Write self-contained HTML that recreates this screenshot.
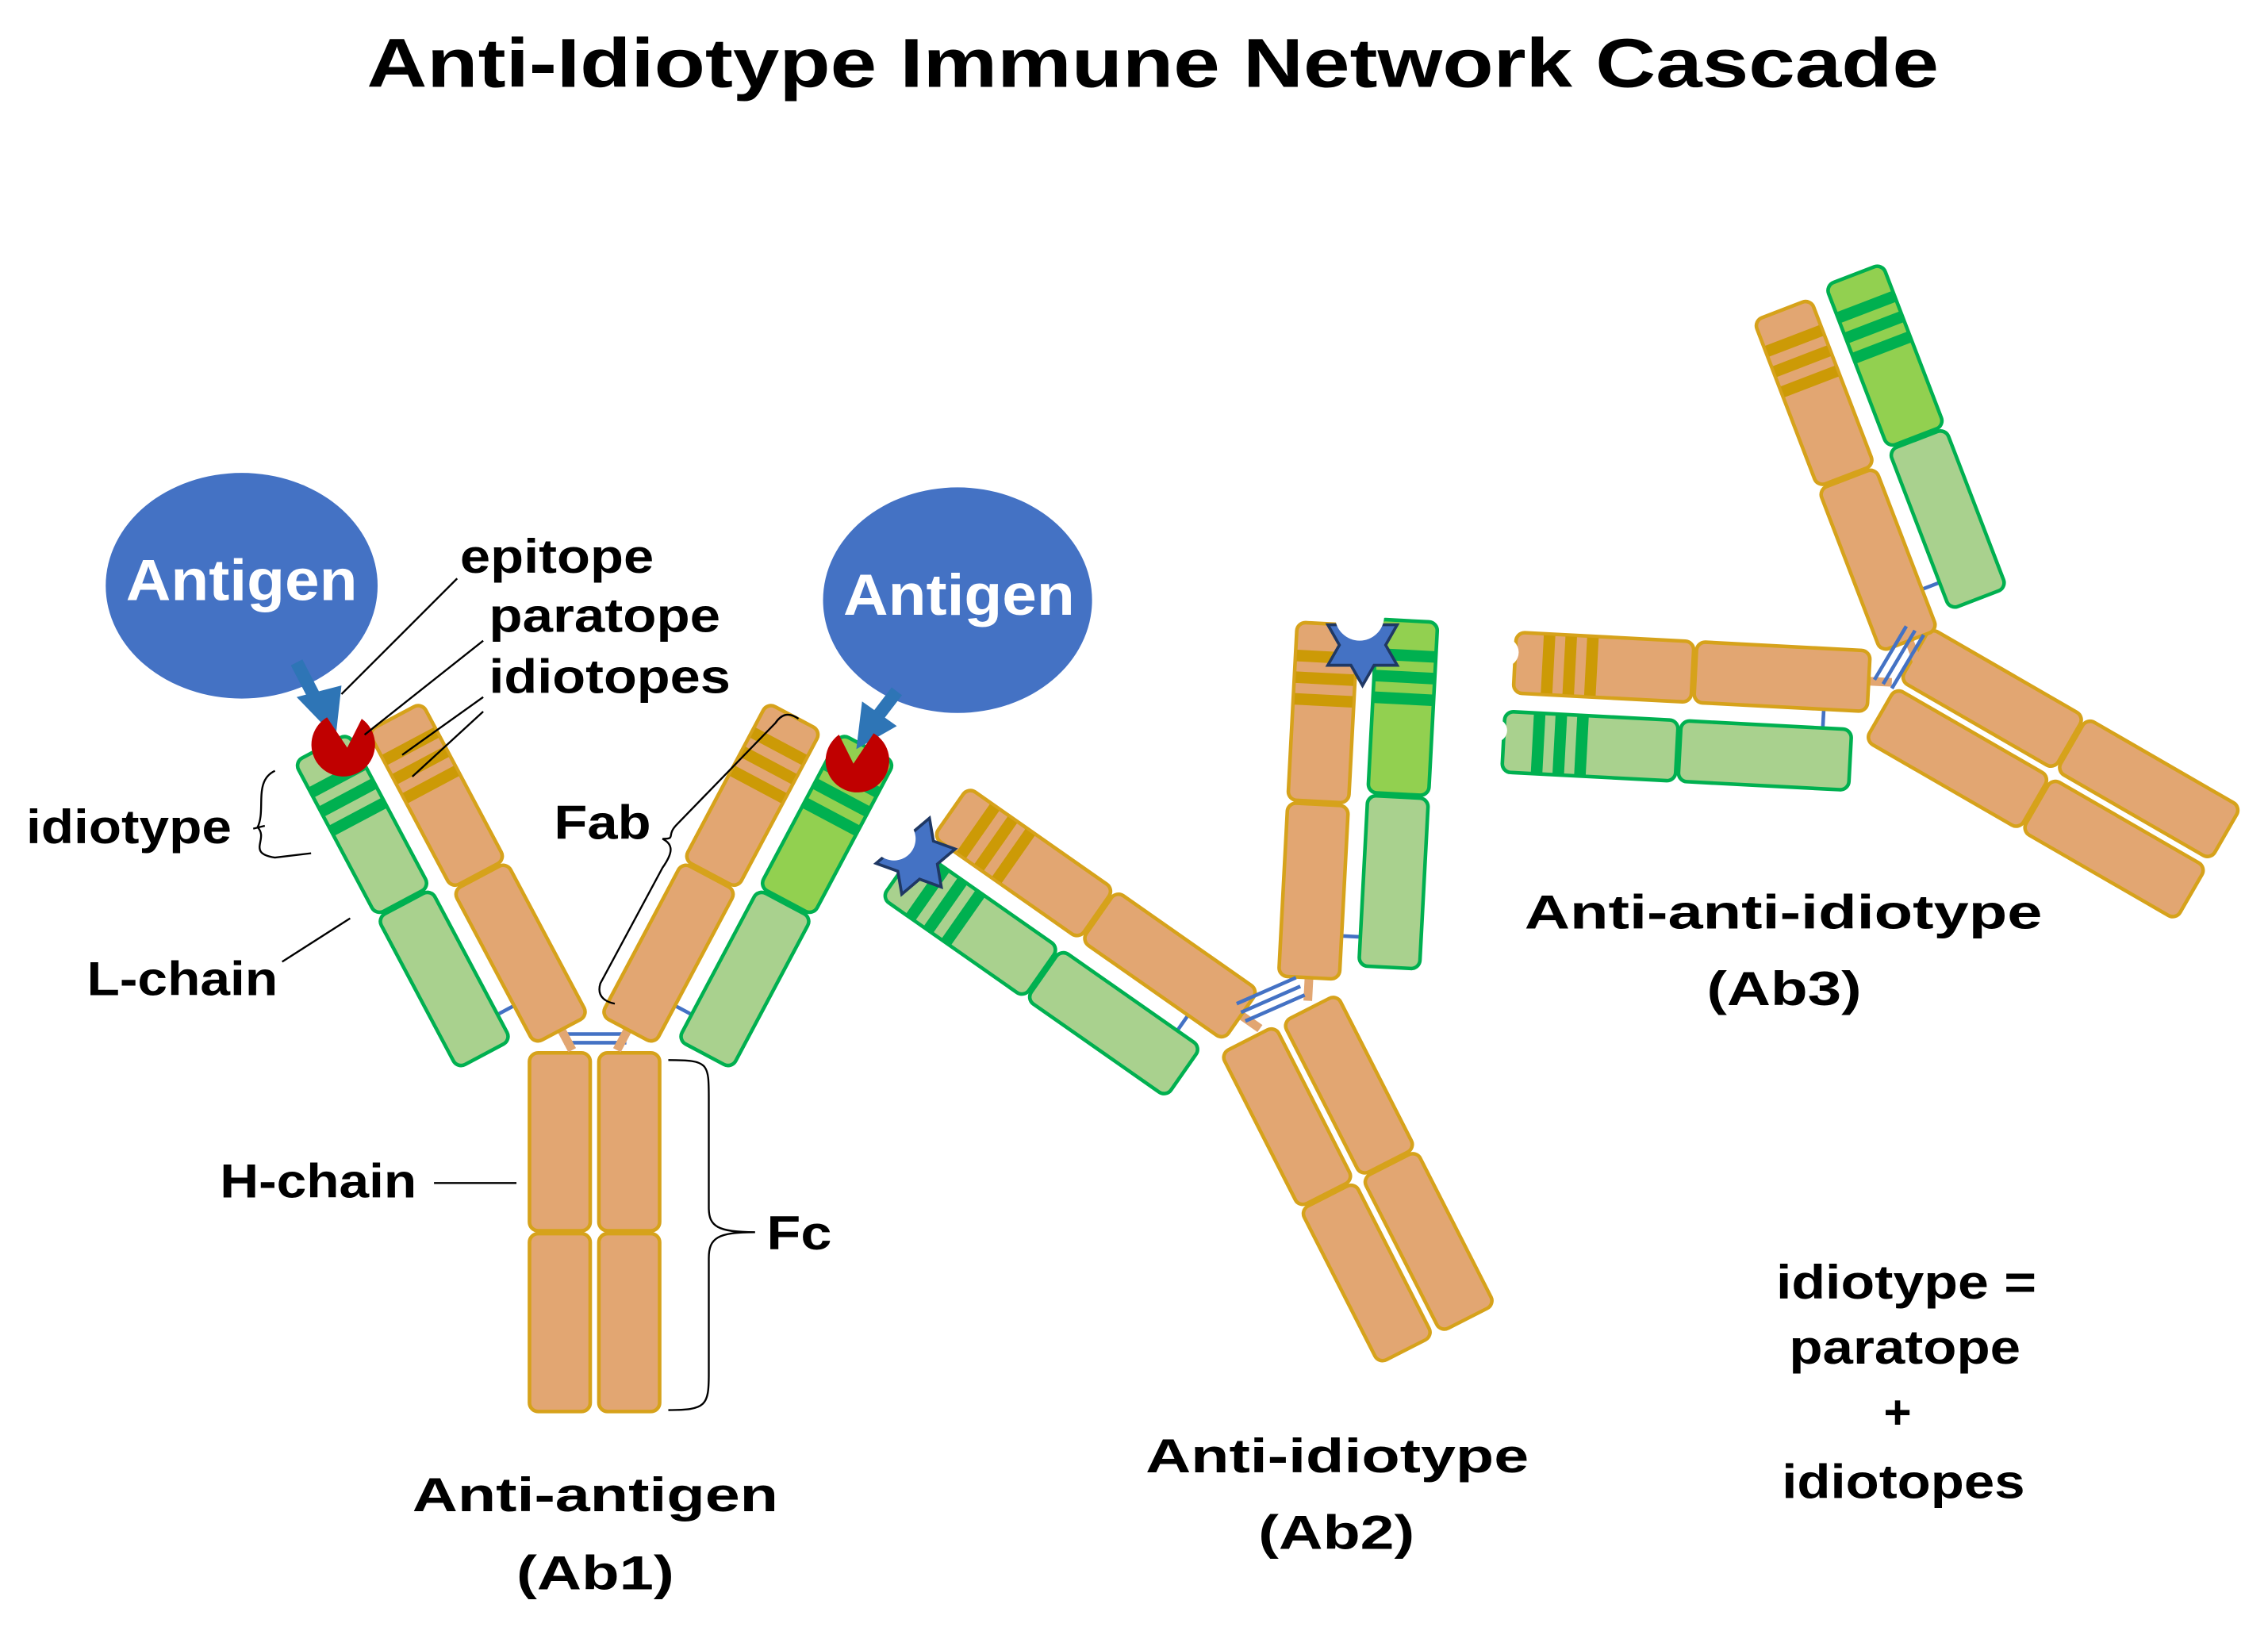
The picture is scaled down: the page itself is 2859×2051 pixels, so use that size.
<!DOCTYPE html>
<html><head><meta charset="utf-8"><style>
html,body{margin:0;padding:0;background:#fff;}
svg{display:block;}
text{font-family:"Liberation Sans",Arial,sans-serif;font-weight:bold;fill:#000;}
</style></head><body>
<svg width="2859" height="2051" viewBox="0 0 1568 1125" xmlns="http://www.w3.org/2000/svg">
<defs>
<g id="H">
<rect x="-3" y="-2" width="6" height="18" fill="#E2A672"/>
<rect x="-21" y="-120" width="42" height="120" rx="6" fill="#E2A672" stroke="#D6A21B" stroke-width="2.5"/>
<rect x="-21" y="-245" width="42" height="123" rx="6" fill="#E2A672" stroke="#D6A21B" stroke-width="2.5"/>
<rect x="-20" y="-226" width="40" height="8" fill="#CC9A06"/>
<rect x="-20" y="-211" width="40" height="8" fill="#CC9A06"/>
<rect x="-20" y="-196" width="40" height="8" fill="#CC9A06"/>
</g>
<line id="CR" x1="21" x2="34" y1="-30" y2="-30" stroke="#4472C4" stroke-width="2.5"/>
<line id="CL" x1="-34" x2="-21" y1="-30" y2="-30" stroke="#4472C4" stroke-width="2.5"/>
<g id="Lp">
<rect x="34" y="-128" width="42" height="118" rx="6" fill="#A9D18E" stroke="#00B050" stroke-width="2.5"/>
<rect x="34" y="-250" width="42" height="120" rx="6" fill="#A9D18E" stroke="#00B050" stroke-width="2.5"/>
<rect x="35" y="-230" width="40" height="8" fill="#00B050"/>
<rect x="35" y="-215" width="40" height="8" fill="#00B050"/>
<rect x="35" y="-200" width="40" height="8" fill="#00B050"/>
</g>
<g id="Lb">
<rect x="34" y="-128" width="42" height="118" rx="6" fill="#A9D18E" stroke="#00B050" stroke-width="2.5"/>
<rect x="34" y="-250" width="42" height="120" rx="6" fill="#92D050" stroke="#00B050" stroke-width="2.5"/>
<rect x="35" y="-230" width="40" height="8" fill="#00B050"/>
<rect x="35" y="-215" width="40" height="8" fill="#00B050"/>
<rect x="35" y="-200" width="40" height="8" fill="#00B050"/>
</g>
<g id="FC">
<rect x="-45" y="14" width="42" height="123" rx="6" fill="#E2A672" stroke="#D6A21B" stroke-width="2.5"/>
<rect x="-45" y="139" width="42" height="123" rx="6" fill="#E2A672" stroke="#D6A21B" stroke-width="2.5"/>
<rect x="3" y="14" width="42" height="123" rx="6" fill="#E2A672" stroke="#D6A21B" stroke-width="2.5"/>
<rect x="3" y="139" width="42" height="123" rx="6" fill="#E2A672" stroke="#D6A21B" stroke-width="2.5"/>
</g>
<polygon id="star" points="0,-28 8,-14 24,-14 16,0 24,14 8,14 0,28 -8,14 -24,14 -16,0 -24,-14 -8,-14" fill="#4472C4" stroke="#1F3864" stroke-width="2"/>
</defs>

<text x="797" y="60" font-size="48" text-anchor="middle" textLength="1087" lengthAdjust="spacingAndGlyphs">Anti-Idiotype Immune Network Cascade</text>

<!-- Ab1 -->
<use href="#FC" transform="translate(411,714)"/>
<line x1="390" y1="715" x2="433" y2="715" stroke="#4472C4" stroke-width="2.5"/>
<line x1="390" y1="721" x2="433" y2="721" stroke="#4472C4" stroke-width="2.5"/>
<g transform="translate(388,712) rotate(-28)"><use href="#CL"/><use href="#H"/><use href="#Lp" transform="translate(-110,0)"/></g>
<g transform="translate(434,712) rotate(28)"><use href="#CR"/><use href="#H"/><use href="#Lb"/></g>

<!-- Ab2 -->
<use href="#FC" transform="translate(878,696) rotate(-27) scale(1,0.97)"/>
<g transform="translate(858,702) rotate(-55)"><use href="#CL"/><use href="#H"/><use href="#Lp" transform="translate(-110,0)"/></g>
<g transform="translate(905,676) rotate(3)"><use href="#CR"/><use href="#H"/><use href="#Lb"/></g>
<g stroke="#4472C4" stroke-width="2.5">
<line x1="855" y1="694" x2="896" y2="676"/><line x1="858" y1="700" x2="899" y2="682"/><line x1="861" y1="706" x2="902" y2="688"/>
</g>

<!-- Ab3 -->
<use href="#FC" transform="translate(1300,466) rotate(-60)"/>
<g transform="translate(1292,471) rotate(-87)"><use href="#CL"/><use href="#H"/><use href="#Lp" transform="translate(-110,0)"/></g>
<g transform="translate(1320,443) rotate(-21)"><use href="#CR"/><use href="#H"/><use href="#Lb"/></g>
<g stroke="#4472C4" stroke-width="2.5">
<line x1="1296" y1="470" x2="1318" y2="433"/><line x1="1302" y1="473" x2="1324" y2="436"/><line x1="1308" y1="476" x2="1330" y2="439"/>
</g>
<circle cx="1040" cy="451" r="10" fill="#fff"/>
<circle cx="1034" cy="505" r="8" fill="#fff"/>
<circle cx="1265" cy="180" r="10" fill="#fff"/>
<circle cx="1212" cy="205" r="6" fill="#fff"/>

<!-- stars -->
<use href="#star" transform="translate(942,446)"/>
<circle cx="940" cy="426" r="17" fill="#fff"/>
<use href="#star" transform="translate(633,592) rotate(20)"/>
<circle cx="618" cy="580" r="15" fill="#fff"/>

<!-- antigens -->
<ellipse cx="167" cy="405" rx="94" ry="78" fill="#4472C4"/>
<text x="167" y="415" font-size="40" text-anchor="middle" textLength="160" lengthAdjust="spacingAndGlyphs" style="fill:#fff">Antigen</text>
<ellipse cx="662" cy="415" rx="93" ry="78" fill="#4472C4"/>
<text x="663" y="425" font-size="40" text-anchor="middle" textLength="160" lengthAdjust="spacingAndGlyphs" style="fill:#fff">Antigen</text>
<line x1="205" y1="458" x2="220" y2="487" stroke="#2E75B6" stroke-width="9"/>
<polygon points="205,482 236,474 232,510" fill="#2E75B6"/>
<line x1="620" y1="478" x2="607" y2="495" stroke="#2E75B6" stroke-width="9"/>
<polygon points="596,485 620,502 592,518" fill="#2E75B6"/>

<!-- paratopes -->
<path d="M240,517 L226,496 A22,22 0 1,0 250,497 Z" fill="#C00000"/>
<path d="M590,528 L604,507 A22,22 0 1,1 580,508 Z" fill="#C00000"/>

<!-- leaders -->
<g stroke="#000" stroke-width="1.3" fill="none">
<line x1="316" y1="400" x2="236" y2="480"/>
<line x1="334" y1="443" x2="252" y2="508"/>
<line x1="334" y1="482" x2="278" y2="522"/>
<line x1="334" y1="492" x2="285" y2="537"/>
<line x1="195" y1="665" x2="242" y2="635"/>
<line x1="300" y1="818" x2="357" y2="818"/>
<path d="M190,533 C175,540 184,560 178,572 C186,580 170,590 190,593 L215,590"/>
<path d="M175,573 L183,571"/>
<path d="M552,497 C545,492 540,494 536,500 L468,570 C460,578 468,580 458,580 C466,584 465,590 458,600 L415,680 C412,690 420,693 425,694"/>
<path d="M462,733 C490,733 490,735 490,760 L490,835 C490,848 496,852 522,852 C496,852 490,856 490,870 L490,950 C490,972 488,975 462,975"/>
</g>

<!-- labels -->
<g font-size="33">
<text x="318" y="396" textLength="134" lengthAdjust="spacingAndGlyphs">epitope</text>
<text x="338" y="437" textLength="160" lengthAdjust="spacingAndGlyphs">paratope</text>
<text x="338" y="479" textLength="167" lengthAdjust="spacingAndGlyphs">idiotopes</text>
<text x="18" y="583" textLength="142" lengthAdjust="spacingAndGlyphs">idiotype</text>
<text x="60" y="688" textLength="132" lengthAdjust="spacingAndGlyphs">L-chain</text>
<text x="152" y="828" textLength="136" lengthAdjust="spacingAndGlyphs">H-chain</text>
<text x="383" y="580" textLength="67" lengthAdjust="spacingAndGlyphs">Fab</text>
<text x="530" y="864" textLength="45" lengthAdjust="spacingAndGlyphs">Fc</text>
<text x="285" y="1045" textLength="253" lengthAdjust="spacingAndGlyphs">Anti-antigen</text>
<text x="357" y="1099" textLength="109" lengthAdjust="spacingAndGlyphs">(Ab1)</text>
<text x="792" y="1018" textLength="265" lengthAdjust="spacingAndGlyphs">Anti-idiotype</text>
<text x="870" y="1071" textLength="108" lengthAdjust="spacingAndGlyphs">(Ab2)</text>
<text x="1054" y="642" textLength="358" lengthAdjust="spacingAndGlyphs">Anti-anti-idiotype</text>
<text x="1180" y="695" textLength="107" lengthAdjust="spacingAndGlyphs">(Ab3)</text>
<text x="1228" y="898" textLength="180" lengthAdjust="spacingAndGlyphs">idiotype =</text>
<text x="1237" y="943" textLength="160" lengthAdjust="spacingAndGlyphs">paratope</text>
<text x="1312" y="988" text-anchor="middle">+</text>
<text x="1232" y="1036" textLength="168" lengthAdjust="spacingAndGlyphs">idiotopes</text>
</g>
</svg>
</body></html>
